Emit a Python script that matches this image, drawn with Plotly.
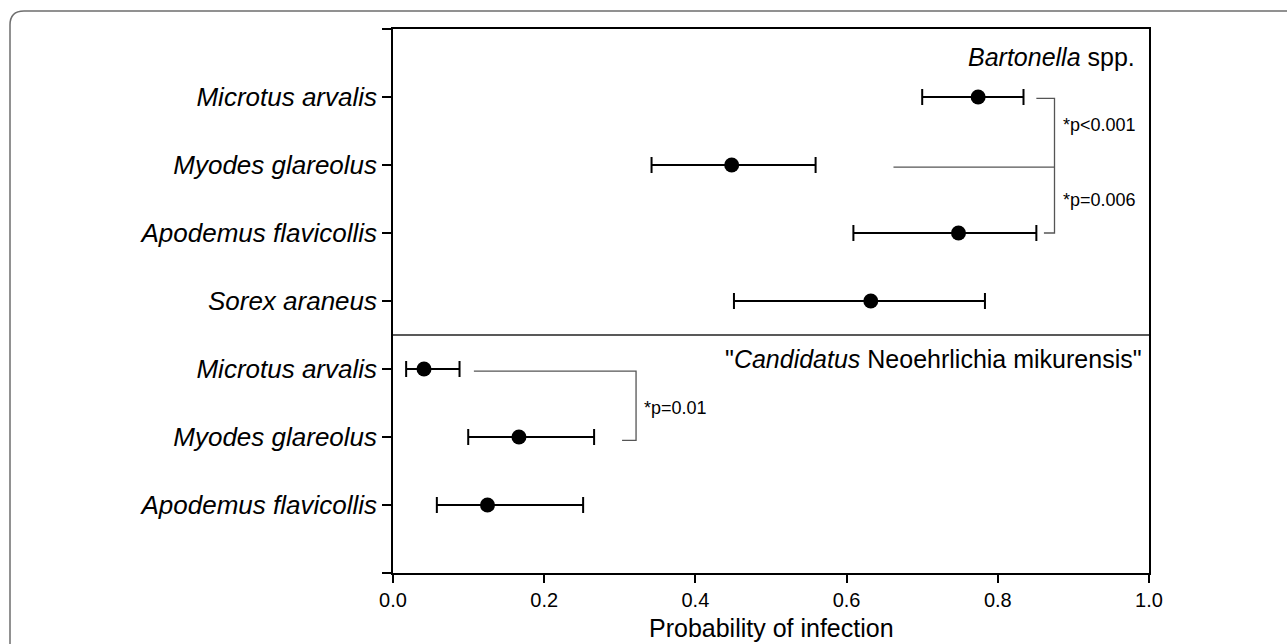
import plotly.graph_objects as go

# ---------------- data ----------------
row_labels = ["<i>Microtus arvalis</i>", "<i>Myodes glareolus</i>", "<i>Apodemus flavicollis</i>",
              "<i>Sorex araneus</i>", "<i>Microtus arvalis</i>", "<i>Myodes glareolus</i>",
              "<i>Apodemus flavicollis</i>"]
rows = [1, 2, 3, 4, 5, 6, 7]
prob = [0.774, 0.448, 0.748, 0.632, 0.041, 0.1666, 0.125]
ci_low = [0.700, 0.342, 0.609, 0.451, 0.0174, 0.0995, 0.058]
ci_high = [0.834, 0.559, 0.851, 0.783, 0.088, 0.266, 0.2515]

x_ticks = [0.0, 0.2, 0.4, 0.6, 0.8, 1.0]
x_ticktext = ["0.0", "0.2", "0.4", "0.6", "0.8", "1.0"]
x_title = "Probability of infection"

# significance brackets: (x, y) polylines in data units
bracket_bart_top = ([0.851, 0.875, 0.875, 0.861], [1.02, 1.02, 3.0, 3.0])
bracket_bart_mid = ([0.662, 0.875], [2.03, 2.03])
bracket_neo = ([0.107, 0.3215, 0.3215, 0.303], [5.03, 5.03, 6.05, 6.05])

p_texts = ["*p<0.001", "*p=0.006", "*p=0.01"]
p_x = [0.884, 0.884, 0.33]
p_y = [1.41, 2.52, 5.58]

panel_titles = ["<i>Bartonella</i> spp.", "\"<i>Candidatus</i> Neoehrlichia mikurensis\""]
panel_x = [0.9836, 0.994]
panel_y = [0.41, 4.85]
separator_y = 4.5

# ---------------- layout constants ----------------
W, H = 1287, 644
PL, PR, PT, PB = 393, 1149, 29, 573
FONT = "Liberation Sans, Arial, sans-serif"

fig = go.Figure()

fig.add_trace(go.Scatter(
    x=prob, y=rows, mode="markers",
    marker=dict(color="black", size=15),
    error_x=dict(type="data", symmetric=False,
                 array=[h - p for h, p in zip(ci_high, prob)],
                 arrayminus=[p - l for p, l in zip(prob, ci_low)],
                 color="black", thickness=2, width=8),
    showlegend=False, hoverinfo="skip"))

for bx, by in [bracket_bart_top, bracket_bart_mid, bracket_neo]:
    fig.add_trace(go.Scatter(x=bx, y=by, mode="lines",
                             line=dict(color="#555555", width=1.3),
                             showlegend=False, hoverinfo="skip"))

fig.add_shape(type="line", xref="paper", yref="y", x0=0, x1=1,
              y0=separator_y, y1=separator_y, line=dict(color="#222222", width=1.5))

for t, x, y in zip(p_texts, p_x, p_y):
    fig.add_annotation(x=x, y=y, text=t, showarrow=False, xanchor="left", yanchor="middle",
                       font=dict(size=18, color="black", family=FONT))

for t, x, y in zip(panel_titles, panel_x, panel_y):
    fig.add_annotation(x=x, y=y, text=t, showarrow=False, xanchor="right", yanchor="middle",
                       font=dict(size=25, color="black", family=FONT))

pw, ph = PR - PL, PB - PT
def px2paper(px, py):
    return (px - PL) / pw, (PB - py) / ph

# x-axis title
_, ty = px2paper(0, 628)
fig.add_annotation(x=0.5, y=ty, xref="paper", yref="paper", text=x_title, showarrow=False,
                   xanchor="center", yanchor="middle",
                   font=dict(size=25, color="black", family=FONT))

# rounded outer frame (top-left corner visible)
fx, fy, r = 10, 11, 14
x0p, y0p = px2paper(fx, H + 20)
x1p, y1p = px2paper(fx, fy + r)
xcp, ycp = px2paper(fx, fy)
x2p, y2p = px2paper(fx + r, fy)
x3p, y3p = px2paper(W + 20, fy)
fig.add_shape(type="path", xref="paper", yref="paper",
              path=f"M {x0p},{y0p} L {x1p},{y1p} Q {xcp},{ycp} {x2p},{y2p} L {x3p},{y3p}",
              line=dict(color="#6e6e6e", width=1.5), layer="below")

fig.update_layout(
    width=W, height=H,
    margin=dict(l=PL, r=W - PR, t=PT, b=H - PB, pad=0, autoexpand=False),
    paper_bgcolor="white", plot_bgcolor="white",
    font=dict(family=FONT, color="black"),
    xaxis=dict(range=[0, 1], tickvals=x_ticks, ticktext=x_ticktext, automargin=False,
               ticks="outside", ticklen=8, tickwidth=1.5, tickcolor="black",
               showline=True, linecolor="black", linewidth=1.5, mirror=True,
               showgrid=False, zeroline=False,
               tickfont=dict(size=20, family=FONT, color="black")),
    yaxis=dict(range=[8, 0], tickvals=[0] + rows + [8], automargin=False,
               ticktext=[""] + row_labels + [""],
               ticks="outside", ticklen=9, tickwidth=1.5, tickcolor="black",
               showline=True, linecolor="black", linewidth=1.5, mirror=True,
               showgrid=False, zeroline=False,
               tickfont=dict(size=26, family=FONT, color="black")),
)

fig.write_html("out.html", config={"displayModeBar": False},
               post_script="document.body.style.margin='0px';document.body.style.overflow='hidden';")
